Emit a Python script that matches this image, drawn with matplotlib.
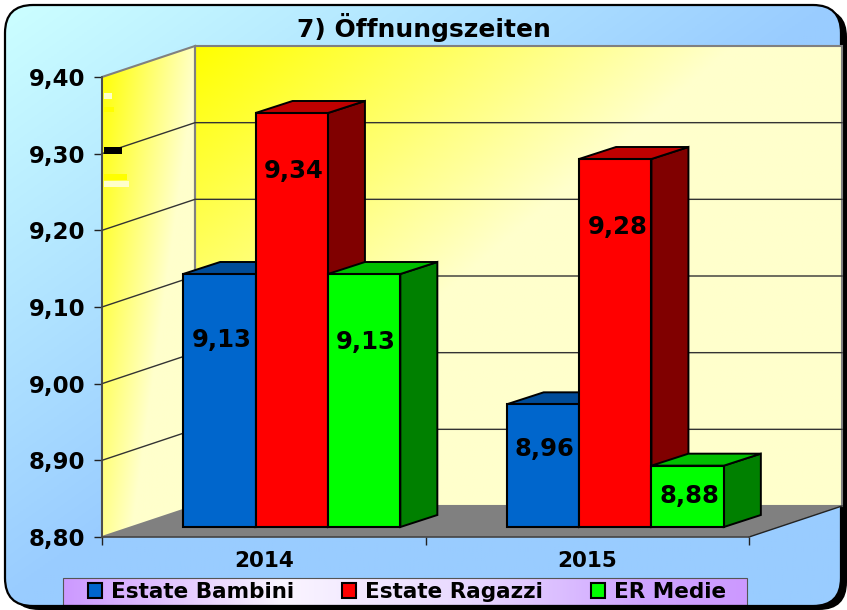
import matplotlib
matplotlib.use('Agg')
import matplotlib.pyplot as plt
import numpy as np
from matplotlib.colors import LinearSegmentedColormap
from matplotlib.patches import FancyBboxPatch, Polygon, Rectangle

years = ['2014', '2015']
series_names = ['Estate Bambini', 'Estate Ragazzi', 'ER Medie']
bambini = [9.13, 8.96]
ragazzi = [9.34, 9.28]
medie = [9.13, 8.88]
y_ticks = [8.80, 8.90, 9.00, 9.10, 9.20, 9.30, 9.40]

front_colors = ['#0066CC', '#FF0000', '#00FF00']
top_colors = ['#004C99', '#BF0000', '#00BF00']
side_colors = ['#003366', '#800000', '#008000']

W, H = 847, 610
fig = plt.figure(figsize=(W / 100, H / 100), dpi=100, facecolor='white')
plt.rcParams['font.family'] = 'DejaVu Sans'

# chrome axes in pixels, for the card and the legend strip
bg = fig.add_axes([0, 0, 1, 1])
bg.axis('off')


def diag_gradient(c1, c2, fx=1.0, fy=1.0, n=300):
    xx, yy = np.meshgrid(np.linspace(0, 1, n), np.linspace(0, 1, n))
    cmap = LinearSegmentedColormap.from_list('g', [c1, c2])
    return cmap(np.clip(xx * fx + yy * fy, 0, 1))


bg.add_patch(FancyBboxPatch((11, 9), 836, 601, boxstyle='round,pad=0,rounding_size=28', fc='black', ec='none'))
card = FancyBboxPatch((5, 5), 836, 601, boxstyle='round,pad=0,rounding_size=28',
                      fc='none', ec='black', lw=1.6, zorder=3)
bg.add_patch(card)
im = bg.imshow(diag_gradient('#CCFFFF', '#99CCFF'), extent=(5, 841, 606, 5), aspect='auto', zorder=1)
im.set_clip_path(card)

# legend strip, whitest left of the middle
strip = np.linspace(0, 1, 300).reshape(1, -1)
strip_cmap = LinearSegmentedColormap.from_list('s', [(0, '#CC99FF'), (0.32, '#FAF5FF'), (0.6, '#E8D8FF'),
                                                     (0.85, '#CFA5FF'), (1, '#CC99FF')])
bg.imshow(strip, cmap=strip_cmap, extent=(63, 747, 605, 578), aspect='auto', zorder=2)
bg.add_patch(Rectangle((63, 578), 684, 27, fc='none', ec='#555555', lw=0.8, zorder=2))
bg.set_xlim(0, W)
bg.set_ylim(H, 0)

# main axes is the front plane of the 3d box
ax = fig.add_axes([102 / W, 1 - 537 / H, 647 / W, 460 / H])
ax.patch.set_visible(False)
XLIM = (0, 2)
YLIM = (8.8, 9.4)
px_x = (XLIM[1] - XLIM[0]) / 647
px_y = (YLIM[1] - YLIM[0]) / 460

box_dx, box_dy = 93 * px_x, 31 * px_y
bar_off_x, bar_off_y = 31 * px_x, 10 * px_y
bar_dx, bar_dy = 37 * px_x, 12 * px_y
bar_w = 72.4 * px_x
ymin, ymax = YLIM

# walls and floor
ax.imshow(diag_gradient('#FFFF00', '#FFFFCC', fx=1.2, fy=1.0),
          extent=(box_dx, 2 + box_dx, ymin + box_dy, ymax + box_dy),
          aspect='auto', zorder=1, clip_on=False)
ax.add_patch(Polygon([(box_dx, ymin + box_dy), (2 + box_dx, ymin + box_dy),
                      (2 + box_dx, ymax + box_dy), (box_dx, ymax + box_dy)],
                     closed=True, fc='none', ec='#808080', lw=1.5, zorder=2, clip_on=False))
left_pts = [(0, ymin), (box_dx, ymin + box_dy), (box_dx, ymax + box_dy), (0, ymax)]
left_poly = Polygon(left_pts, closed=True, fc='none', ec='#808080', lw=1.5, zorder=2, clip_on=False)
ax.add_patch(left_poly)
im2 = ax.imshow(diag_gradient('#FFFF00', '#FFFFCC', fx=0.95, fy=0.7),
                extent=(0, box_dx, ymin, ymax + box_dy), aspect='auto', zorder=1)
im2.set_clip_path(Polygon(left_pts, transform=ax.transData))
im2.set_clip_box(fig.bbox)
ax.add_patch(Polygon([(0, ymin), (2, ymin), (2 + box_dx, ymin + box_dy), (box_dx, ymin + box_dy)],
                     closed=True, fc='#808080', ec='none', zorder=3, clip_on=False))

# gridlines run along the left wall and the back wall
for t in y_ticks[1:-1]:
    ax.plot([0, box_dx, 2 + box_dx], [t, t + box_dy, t + box_dy], color='#333333', lw=1.0, zorder=2, clip_on=False)
ax.plot([2, 2 + box_dx], [ymin, ymin + box_dy], color='#222222', lw=1.0, zorder=3, clip_on=False)

# smudges on the left wall, they are in the reference
for t, hgt, wid, col in [(9.371, 6, 8, '#FFFFCC'), (9.354, 5, 10, '#FFFF00'), (9.30, 7, 18, 'black'),
                         (9.266, 6, 23, '#FFFF00'), (9.256, 6, 25, '#FFFFCC')]:
    ax.add_patch(Rectangle((1.5 * px_x, t), wid * px_x, hgt * px_y, fc=col, ec='none', zorder=2.5, clip_on=False))

# bars, left to right so each hides the side of the one before
values = [bambini, ragazzi, medie]
handles = []
# distance of each value label below the top of its bar, in pixels
label_drop = [[66, 45], [58, 68], [68, 30]]
for c in range(len(years)):
    for s in range(len(series_names)):
        v = values[s][c]
        x = c + 0.155 + s * bar_w + bar_off_x
        y0 = ymin + bar_off_y
        y1 = v + bar_off_y
        z = 4 + s + c * 5
        ax.add_patch(Polygon([(x + bar_w, y0), (x + bar_w + bar_dx, y0 + bar_dy),
                              (x + bar_w + bar_dx, y1 + bar_dy), (x + bar_w, y1)],
                             fc=side_colors[s], ec='black', lw=1.4, zorder=z, clip_on=False))
        ax.add_patch(Polygon([(x, y1), (x + bar_w, y1), (x + bar_w + bar_dx, y1 + bar_dy), (x + bar_dx, y1 + bar_dy)],
                             fc=top_colors[s], ec='black', lw=1.4, zorder=z, clip_on=False))
        b = ax.bar(x, v - ymin, bottom=y0, width=bar_w, align='edge', color=front_colors[s],
                   edgecolor='black', lw=1.5, zorder=z, clip_on=False)
        if c == 0:
            handles.append(b[0])
        ax.text(x + bar_w / 2 + 2 * px_x, y1 - label_drop[s][c] * px_y, f'{v:.2f}'.replace('.', ','),
                ha='center', va='center', fontsize=17.5, fontweight='bold', color='black', zorder=40)

ax.set_xlim(*XLIM)
ax.set_ylim(*YLIM)
ax.set_yticks(y_ticks)
ax.set_yticklabels([f'{t:.2f}'.replace('.', ',') for t in y_ticks], fontsize=16.5, fontweight='bold')
ax.set_xticks([0, 1, 2])
ax.set_xticklabels([])
ax.set_xticks([0.5, 1.5], labels=years, minor=True, fontsize=15.5, fontweight='bold')
ax.tick_params(axis='x', which='minor', length=0, pad=10)
ax.tick_params(axis='x', which='major', length=6, width=1, color='#222222')
ax.tick_params(axis='y', length=6, width=1, color='#222222', pad=6)
for name, sp in ax.spines.items():
    sp.set_visible(name in ('left', 'bottom'))
    sp.set_color('#444444')
    sp.set_linewidth(1.2)
    sp.set_zorder(30)

fig.text(424 / W, 1 - 28 / H, '7) Öffnungszeiten', ha='center', va='center', fontsize=18, fontweight='bold')

ax.legend(handles, series_names, ncols=3, loc='center', bbox_to_anchor=(407 / W, 1 - 592 / H),
          bbox_transform=fig.transFigure, frameon=False, handlelength=0.65, handleheight=0.65,
          handletextpad=0.45, columnspacing=2.2, prop={'weight': 'bold', 'size': 15.5})

fig.savefig('out.png', dpi=100)
